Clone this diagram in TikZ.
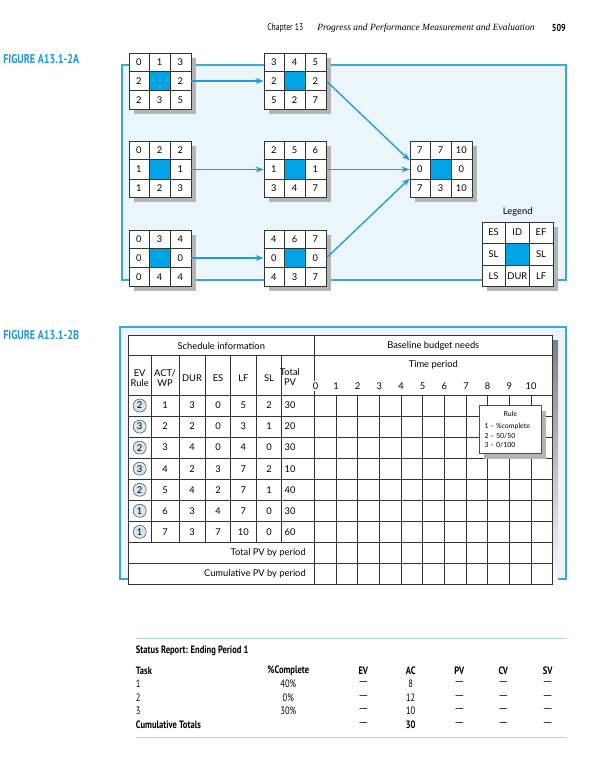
\documentclass[tikz,border=0pt]{standalone}
\usepackage{fontspec}
\setmainfont{Lato}
\newfontfamily\condfont[FakeStretch=0.8]{PT Sans}
\newfontfamily\timesfont{Liberation Serif}
\usetikzlibrary{arrows.meta,shadows,calc}

\definecolor{cellblue}{HTML}{00A4E4}
\definecolor{lineblue}{HTML}{3AA8D8}
\definecolor{arrowblue}{HTML}{1C9DD8}
\definecolor{paleblue}{HTML}{EAF5FC}
\definecolor{figblue}{HTML}{2196D3}
\definecolor{ruleblue}{HTML}{A9D6EC}
\definecolor{circblue}{HTML}{D6E7F4}
\definecolor{shade}{HTML}{B4B4B4}

% cell size of an activity box
\def\cw{15.5pt}
\def\ch{14pt}

\tikzset{
  grid line/.style={draw=black!80, line width=0.5pt},
  act/.style={draw=black!80, line width=0.6pt, fill=white, inner sep=0pt,
    minimum width=3*\cw, minimum height=3*\ch,
    drop shadow={shadow xshift=3.6pt, shadow yshift=-3.6pt, opacity=1, fill=shade}},
  cell/.style={font=\fontsize{7}{8}\selectfont, inner sep=0pt},
  link/.style={draw=arrowblue, line width=1pt, -{Stealth[length=6pt,width=4.4pt]}},
  fig label/.style={text=figblue, font=\condfont\bfseries\fontsize{9.5}{10}\selectfont, anchor=west, inner sep=0pt},
  tab txt/.style={font=\fontsize{7}{7.6}\selectfont, inner sep=0pt},
  rule circ/.style={circle, draw=black!70, fill=circblue, minimum size=9.8pt, inner sep=0pt, font=\fontsize{7}{8}\selectfont},
  rep txt/.style={font=\condfont\fontsize{8}{9}\selectfont, inner sep=0pt},
  rep head/.style={font=\condfont\bfseries\fontsize{8}{9}\selectfont, inner sep=0pt},
  rep dash/.style={font=\fontsize{8.6}{9}\selectfont, inner sep=0pt},
}

% activity box: name, position, top row, middle row, bottom row
\newcommand\actnode[5]{%
  \node[act] (#1) at (#2) {};
  \fill[cellblue] ($(#1.north west)+(\cw,-\ch)$) rectangle ($(#1.south east)+(-\cw,\ch)$);
  \draw[grid line] ($(#1.north west)+(\cw,0)$) -- ($(#1.south west)+(\cw,0)$)
    ($(#1.north west)+(2*\cw,0)$) -- ($(#1.south west)+(2*\cw,0)$)
    ($(#1.north west)+(0,-\ch)$) -- ($(#1.north east)+(0,-\ch)$)
    ($(#1.south west)+(0,\ch)$) -- ($(#1.south east)+(0,\ch)$);
  \foreach \v [count=\c] in {#3}
    \node[cell] (#1-t\c) at ($(#1.north west)+(\c*\cw-0.5*\cw,-0.5*\ch)$) {\v};
  \foreach \v [count=\c] in {#4}
    \node[cell] (#1-m\c) at ($(#1.west)+(2*\c*\cw-1.5*\cw,0)$) {\v};
  \foreach \v [count=\c] in {#5}
    \node[cell] (#1-b\c) at ($(#1.south west)+(\c*\cw-0.5*\cw,0.5*\ch)$) {\v};
}

\begin{document}
\begin{tikzpicture}[x=0.75pt, y=-0.75pt]
  \path[fill=white, use as bounding box] (0,0) rectangle (589,774);

  % Running head
  \node[anchor=west, inner sep=0pt, font=\condfont\fontsize{7.2}{8}\selectfont] (chap) at (267,28) {Chapter 13};
  \node[anchor=west, inner sep=0pt, font=\timesfont\itshape\fontsize{7.15}{8}\selectfont] (title) at (317,28) {Progress and Performance Measurement and Evaluation};
  \node[anchor=east, inner sep=0pt, font=\condfont\bfseries\fontsize{7.6}{8}\selectfont] (page) at (566,28) {509};

  % Figure A: network
  \node[fig label] (figA) at (3,59) {FIGURE A13.1-2A};
  \draw[draw=lineblue, fill=paleblue, line width=0.8pt] (122,65) rectangle (566,280);

  \actnode{n1}{160,81}{0,1,3}{2,2}{2,3,5}
  \actnode{n2}{295,81}{3,4,5}{2,2}{5,2,7}
  \actnode{n3}{160,169.5}{0,2,2}{1,1}{1,2,3}
  \actnode{n4}{295,169.5}{2,5,6}{1,1}{3,4,7}
  \actnode{n5}{160,258}{0,3,4}{0,0}{0,4,4}
  \actnode{n6}{295,258}{4,6,7}{0,0}{4,3,7}
  \actnode{n7}{441,169.5}{7,7,10}{0,0}{7,3,10}

  % Legend
  \begin{scope}
    \def\cw{17.8pt}
    \def\ch{16pt}
    \actnode{legend}{517.7,254}{ES,ID,EF}{SL,SL}{LS,DUR,LF}
  \end{scope}
  \node[cell, anchor=south] (legtitle) at ([yshift=4pt]legend.north) {Legend};

  % Arrows
  \draw[link] (n1.east) -- (n2.west);
  \draw[link] (n3.east) -- (n4.west);
  \draw[link] (n5.east) -- (n6.west);
  \draw[link] (n2.east) -- ([yshift=6.8pt]n7.west);
  \draw[link] (n4.east) -- (n7.west);
  \draw[link] (n6.east) -- ([yshift=-6.8pt]n7.west);

  % Figure B: schedule table
  \node[fig label] (figB) at (3,335) {FIGURE A13.1-2B};
  \draw[draw=lineblue, fill=paleblue, line width=0.8pt] (120,327) rectangle (566,579);
  \fill[shade] (133.5,340) rectangle (558,589.5);
  \draw[grid line, fill=white] (128.3,335) rectangle (552.3,584.3);

  \draw[grid line] (128.3,355.7) -- (552.3,355.7);
  \foreach \k in {0,...,8}
    \draw[grid line] (128.3,{395+21.05*\k}) -- (552.3,{395+21.05*\k});
  \foreach \x in {151,179,205,230.7,256,281.7}
    \draw[grid line] (\x,355.7) -- (\x,542.4);
  \draw[grid line] (314.3,335) -- (314.3,584.3);
  \foreach \k in {1,...,10}
    \draw[grid line] ({314.3+21.67*\k},395) -- ({314.3+21.67*\k},584.3);

  % Headings
  \node[tab txt] (sched) at (221.3,345.7) {Schedule information};
  \node[tab txt] (base) at (433.3,345.7) {Baseline budget needs};
  \node[tab txt] (tper) at (433.3,365) {Time period};
  \node[tab txt, align=center] (hrule) at (139.7,378) {EV\\Rule};
  \node[tab txt, align=center] (hact) at (165,378) {ACT/\\WP};
  \node[tab txt] (hdur) at (192,378) {DUR};
  \node[tab txt] (hes) at (218,378) {ES};
  \node[tab txt] (hlf) at (243.4,378) {LF};
  \node[tab txt] (hsl) at (269,378) {SL};
  \node[tab txt, align=center] (hpv) at (290,377) {Total\\PV};
  \node[tab txt, fill=white, inner sep=1pt] (t0) at (315.5,386) {0};
  \foreach \k in {1,...,10}
    \node[tab txt] (t\k) at ({314.3+21.67*\k},386) {\k};

  % Rows
  \foreach \vr/\va/\vd/\ve/\vl/\vs/\vp [count=\i] in
    {2/1/3/0/5/2/30, 3/2/2/0/3/1/20, 2/3/4/0/4/0/30, 3/4/2/3/7/2/10,
     2/5/4/2/7/1/40, 1/6/3/4/7/0/30, 1/7/3/7/10/0/60} {
    \pgfmathsetmacro\yy{395+21.05*(\i-0.5)}
    \node[rule circ] (r\i) at (139.7,\yy) {\vr};
    \node[tab txt] (a\i) at (165,\yy) {\va};
    \node[tab txt] (d\i) at (192,\yy) {\vd};
    \node[tab txt] (e\i) at (218,\yy) {\ve};
    \node[tab txt] (l\i) at (243.4,\yy) {\vl};
    \node[tab txt] (s\i) at (269,\yy) {\vs};
    \node[tab txt] (p\i) at (290,\yy) {\vp};
  }
  \node[tab txt, anchor=east] (totpv) at (306,553) {Total PV by period};
  \node[tab txt, anchor=east] (cumpv) at (306,574) {Cumulative PV by period};

  % Rule box
  \node[draw=black!70, line width=0.5pt, fill=white, minimum width=46.5pt, minimum height=36pt,
    drop shadow={shadow xshift=3.6pt, shadow yshift=-3.6pt, opacity=1, fill=shade}] (rulebox) at (510.3,429.7) {};
  \node[inner sep=0pt, font=\fontsize{5.2}{6}\selectfont] (rulehd) at (510.3,414.3) {Rule};
  \node[inner sep=0pt, anchor=west, font=\fontsize{5.2}{6}\selectfont] (rule1) at (484.3,426.7) {1 – \%complete};
  \node[inner sep=0pt, anchor=west, font=\fontsize{5.2}{6}\selectfont] (rule2) at (484.3,436) {2 – 50/50};
  \node[inner sep=0pt, anchor=west, font=\fontsize{5.2}{6}\selectfont] (rule3) at (484.3,445) {3 – 0/100};

  % Status report
  \draw[draw=ruleblue, line width=0.9pt] (135.7,638.3) -- (565.7,638.3);
  \node[rep head, anchor=west] (stat) at (135.7,651) {Status Report: Ending Period 1};
  \node[rep head, anchor=west] (task) at (135.7,670.7) {Task};
  \foreach \t/\x in {\%Complete/288.3, EV/363.3, AC/410.7, PV/459.3, CV/503.3, SV/547.7}
    \node[rep head] (h\x) at (\x,670.7) {\t};
  \foreach \tk/\pc/\ac [count=\i] in {1/40\%/8, 2/0\%/12, 3/30\%/10} {
    \pgfmathsetmacro\yy{670.7+13.4*\i}
    \node[rep txt, anchor=west] (k\i) at (135.7,\yy) {\tk};
    \node[rep txt] (c\i) at (288.3,\yy) {\pc};
    \node[rep dash] (ev\i) at (363.3,\yy) {—};
    \node[rep txt] (ac\i) at (410.7,\yy) {\ac};
    \node[rep dash] (pv\i) at (459.3,\yy) {—};
    \node[rep dash] (cv\i) at (503.3,\yy) {—};
    \node[rep dash] (sv\i) at (547.7,\yy) {—};
  }
  \node[rep head, anchor=west] (cum) at (135.7,724.3) {Cumulative Totals};
  \node[rep dash] (evt) at (363.3,724.3) {—};
  \node[rep head] (act) at (410.7,724.3) {30};
  \node[rep dash] (pvt) at (459.3,724.3) {—};
  \node[rep dash] (cvt) at (503.3,724.3) {—};
  \node[rep dash] (svt) at (547.7,724.3) {—};
  \draw[draw=ruleblue, line width=0.9pt] (135.7,737.3) -- (565.7,737.3);
\end{tikzpicture}
\end{document}
